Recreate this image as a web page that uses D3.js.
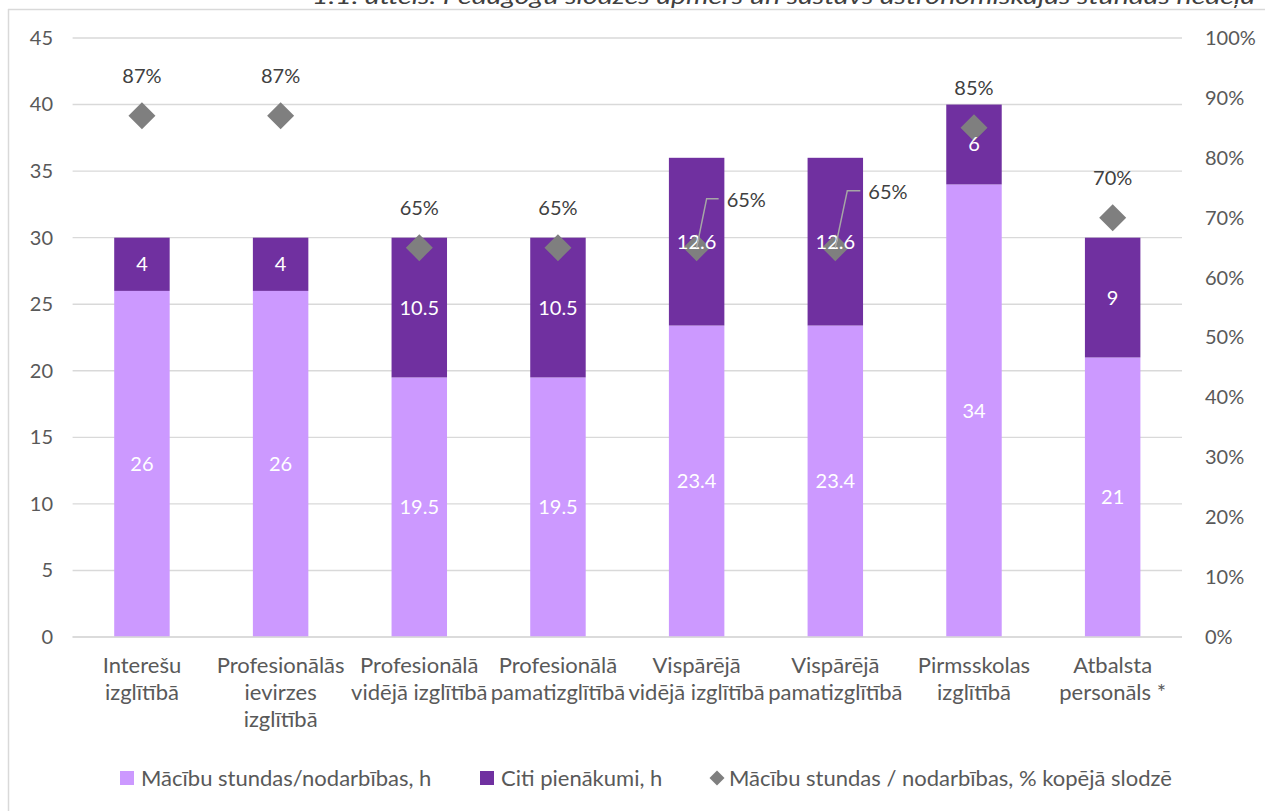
<!DOCTYPE html>
<html>
<head>
    <meta charset="utf-8" />
    <title>Pedagogu slodze</title>
    <style>
        body {
            padding: 0;
            margin: 0;
            background: #fff;
        }
        svg text {
            font-family: Lato, "Open Sans", sans-serif;
        }
        .tick-lbl {
            font-size: 20px;
            fill: #595959;
        }
        .cat-lbl {
            font-size: 22px;
            fill: #595959;
        }
        .seg-lbl {
            font-size: 20px;
            fill: #fff;
        }
        .pct-lbl {
            font-size: 20px;
            fill: #404040;
        }
        .legend text {
            font-size: 22px;
            fill: #595959;
        }
    </style>
</head>
<body>
<svg id="chart" width="1265" height="811"></svg>
<script src="https://cdn.jsdelivr.net/npm/d3@7"></script>
<script>

// data
var categories = [
  ["Interešu", "izglītībā"],
  ["Profesionālās", "ievirzes", "izglītībā"],
  ["Profesionālā", "vidējā izglītībā"],
  ["Profesionālā", "pamatizglītībā"],
  ["Vispārējā", "vidējā izglītībā"],
  ["Vispārējā", "pamatizglītībā"],
  ["Pirmsskolas", "izglītībā"],
  ["Atbalsta", "personāls *"]
];
var lessonHours = [26, 26, 19.5, 19.5, 23.4, 23.4, 34, 21];
var otherHours = [4, 4, 10.5, 10.5, 12.6, 12.6, 6, 9];
var lessonShare = [0.87, 0.87, 0.65, 0.65, 0.65, 0.65, 0.85, 0.70];
var leftTicks = [0, 5, 10, 15, 20, 25, 30, 35, 40, 45];
var rightTicks = [0, 0.1, 0.2, 0.3, 0.4, 0.5, 0.6, 0.7, 0.8, 0.9, 1];
var seriesNames = ["Mācību stundas/nodarbības, h", "Citi pienākumi, h", "Mācību stundas / nodarbības, % kopējā slodzē"];
var chartTitle = "1.1. attēls. Pedagogu slodzes apmērs un sastāvs astronomiskajās stundās nedēļā";

var colLight = "#cc99ff";
var colDark = "#7030a0";
var colDiamond = "#7f7f7f";
var colGrid = "#d9d9d9";

// label nudges for the two crowded % labels (layout only)
var pctLabelMove = {
  4: {line: [[10, -49], [22, -49]], dx: 30, dy: -48},
  5: {line: [[12, -57], [25, -57]], dx: 33, dy: -56}
};

var svg = d3.select("#chart");
var idx = d3.range(categories.length);

var x = d3.scaleBand()
    .domain(idx)
    .range([72.6, 1182])
    .paddingInner(0.6)
    .paddingOuter(0.3);
var y = d3.scaleLinear().domain([0, 45]).range([637, 38]);
var y2 = d3.scaleLinear().domain([0, 1]).range([637, 38]);

// frame + clipped title
svg.append("line")
    .attr("x1", 8.5).attr("x2", 8.5).attr("y1", 9).attr("y2", 811)
    .attr("stroke", colGrid).attr("stroke-width", 1.5);
svg.append("line")
    .attr("x1", 8).attr("x2", 1265).attr("y1", 9.5).attr("y2", 9.5)
    .attr("stroke", colGrid).attr("stroke-width", 1.5);
svg.append("text")
    .attr("x", 1255).attr("y", 4)
    .attr("text-anchor", "end")
    .attr("textLength", 943)
    .attr("lengthAdjust", "spacingAndGlyphs")
    .style("font-style", "italic")
    .style("font-size", "22px")
    .style("fill", "#404040")
    .text(chartTitle);

// grid
svg.append("g")
  .selectAll("line")
  .data(leftTicks)
  .enter().append("line")
    .attr("x1", 72.6).attr("x2", 1182)
    .attr("y1", function(d) { return y(d); })
    .attr("y2", function(d) { return y(d); })
    .attr("stroke", colGrid)
    .attr("stroke-width", 1.4);

// axes
var axL = svg.append("g")
    .attr("transform", "translate(62,0)")
    .call(d3.axisLeft(y).tickValues(leftTicks).tickSize(0).tickPadding(9));
var axR = svg.append("g")
    .attr("transform", "translate(1196,0)")
    .call(d3.axisRight(y2).tickValues(rightTicks).tickSize(0).tickPadding(9).tickFormat(d3.format(".0%")));
[axL, axR].forEach(function(ax) {
  ax.select(".domain").remove();
  ax.selectAll("text").attr("class", "tick-lbl").attr("font-family", null).attr("font-size", null).attr("fill", null);
});

// stacked bars
var bars = svg.append("g");
bars.selectAll("rect.low")
  .data(idx)
  .enter().append("rect")
    .attr("class", "low")
    .attr("x", function(i) { return x(i); })
    .attr("width", x.bandwidth())
    .attr("y", function(i) { return y(lessonHours[i]); })
    .attr("height", function(i) { return y(0) - y(lessonHours[i]); })
    .attr("fill", colLight);
bars.selectAll("rect.high")
  .data(idx)
  .enter().append("rect")
    .attr("class", "high")
    .attr("x", function(i) { return x(i); })
    .attr("width", x.bandwidth())
    .attr("y", function(i) { return y(lessonHours[i] + otherHours[i]); })
    .attr("height", function(i) { return y(lessonHours[i]) - y(lessonHours[i] + otherHours[i]); })
    .attr("fill", colDark);

// baseline
svg.append("line")
    .attr("x1", 72.6).attr("x2", 1182).attr("y1", y(0)).attr("y2", y(0))
    .attr("stroke", colGrid).attr("stroke-width", 1.6);

// diamonds
var dHalf = 13.5;
function diamond(cx, cy, h) {
  return "M" + cx + "," + (cy - h) + "L" + (cx + h) + "," + cy + "L" + cx + "," + (cy + h) + "L" + (cx - h) + "," + cy + "Z";
}
svg.append("g").selectAll("path")
  .data(idx)
  .enter().append("path")
    .attr("d", function(i) { return diamond(x(i) + x.bandwidth() / 2, y2(lessonShare[i]), dHalf); })
    .attr("fill", colDiamond);

// segment labels
var fmt = function(v) { return String(v); };
svg.append("g").selectAll("text.a")
  .data(idx)
  .enter().append("text")
    .attr("class", "seg-lbl")
    .attr("x", function(i) { return x(i) + x.bandwidth() / 2; })
    .attr("y", function(i) { return y(lessonHours[i] / 2); })
    .attr("dy", "0.35em")
    .attr("text-anchor", "middle")
    .text(function(i) { return fmt(lessonHours[i]); });
svg.append("g").selectAll("text.b")
  .data(idx)
  .enter().append("text")
    .attr("class", "seg-lbl")
    .attr("x", function(i) { return x(i) + x.bandwidth() / 2; })
    .attr("y", function(i) { return y(lessonHours[i] + otherHours[i] / 2); })
    .attr("dy", "0.35em")
    .attr("text-anchor", "middle")
    .text(function(i) { return fmt(otherHours[i]); });

// % labels and leader lines
var pctG = svg.append("g");
idx.forEach(function(i) {
  var cx = x(i) + x.bandwidth() / 2;
  var cy = y2(lessonShare[i]);
  var mv = pctLabelMove[i];
  var label = d3.format(".0%")(lessonShare[i]);
  if (mv) {
    var pts = [[cx, cy]].concat(mv.line.map(function(p) { return [cx + p[0], cy + p[1]]; }));
    pctG.append("path")
        .attr("d", d3.line()(pts))
        .attr("fill", "none")
        .attr("stroke", "#a6a6a6")
        .attr("stroke-width", 1.5);
    pctG.append("text")
        .attr("class", "pct-lbl")
        .attr("x", cx + mv.dx)
        .attr("y", cy + mv.dy)
        .attr("dy", "0.35em")
        .text(label);
  } else {
    pctG.append("text")
        .attr("class", "pct-lbl")
        .attr("x", cx)
        .attr("y", cy - 40)
        .attr("dy", "0.35em")
        .attr("text-anchor", "middle")
        .text(label);
  }
});

// category labels
var catG = svg.append("g");
idx.forEach(function(i) {
  var t = catG.append("text")
      .attr("class", "cat-lbl")
      .attr("text-anchor", "middle")
      .attr("x", x(i) + x.bandwidth() / 2)
      .attr("y", 673);
  categories[i].forEach(function(line, k) {
    t.append("tspan")
        .attr("x", x(i) + x.bandwidth() / 2)
        .attr("dy", k === 0 ? 0 : 27)
        .text(line);
  });
});

// legend
var leg = svg.append("g").attr("class", "legend");
var legX = [120, 480, 717];
leg.append("rect").attr("x", legX[0]).attr("y", 771).attr("width", 14).attr("height", 14).attr("fill", colLight);
leg.append("rect").attr("x", legX[1]).attr("y", 771).attr("width", 14).attr("height", 14).attr("fill", colDark);
leg.append("path").attr("d", diamond(legX[2], 778, 7.5)).attr("fill", colDiamond);
leg.append("text").attr("x", legX[0] + 21).attr("y", 786).text(seriesNames[0]);
leg.append("text").attr("x", legX[1] + 21).attr("y", 786).text(seriesNames[1]);
leg.append("text").attr("x", legX[2] + 12).attr("y", 786).text(seriesNames[2]);

</script>
</body>
</html>
